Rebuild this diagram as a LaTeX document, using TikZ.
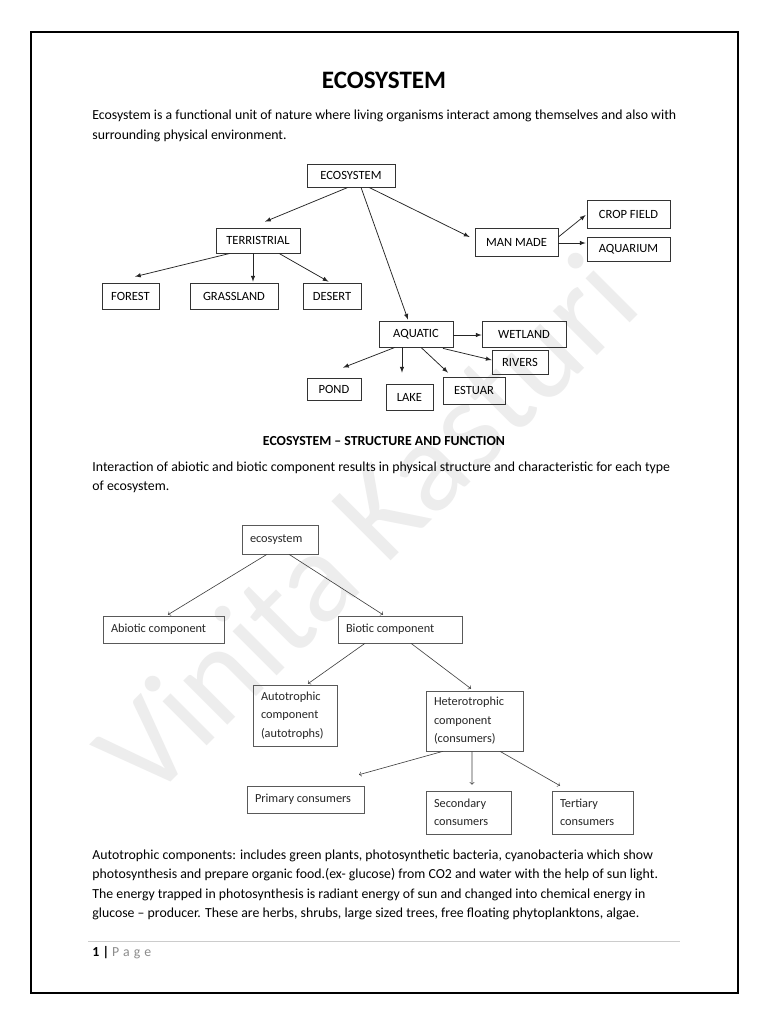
\documentclass[tikz,border=0pt]{standalone}
\usepackage{fontspec}
\setmainfont{Carlito}
\usepackage{xcolor}
\usetikzlibrary{shapes,arrows,positioning,calc}
\newcommand{\px}{0.796875bp}

\begin{document}
\begin{tikzpicture}[x=\px, y=-\px,
    bsize/.style 2 args={minimum width=#1*\px, minimum height=#2*\px},
    box/.style={rectangle, draw=black!80, line width=0.6pt, inner sep=0pt, font=\fontsize{10bp}{12bp}\selectfont},
    sbox/.style 2 args={rectangle, draw=black!65, line width=0.5pt, inner xsep=8*\px, inner ysep=0pt, text width=(#1-16)*\px, minimum height=#2*\px, align=flush left, text=black!85, font=\fontsize{9.8bp}{14.7bp}\selectfont},
    arrow/.style={-latex, line width=0.6pt, draw=black!85},
    sarrow/.style={->, line width=0.5pt, draw=black!75},
    para/.style={anchor=west, align=left, font=\fontsize{11bp}{15.4bp}\selectfont}
]
\useasboundingbox[fill=white] (0,0) rectangle (768,1024);

% Watermark
\node[rotate=45, text=black!7, font=\fontsize{104bp}{104bp}\selectfont] (mark) at (365,525) {Vinita Kasturi};

% Page frame
\draw[line width=1.2pt] (31,32) rectangle (738,993);

% Heading and intro
\node[font=\fontsize{20bp}{24bp}\selectfont\bfseries] (title) at (384,80) {ECOSYSTEM};
\node[para] (intro) at (88,126) {Ecosystem is a functional unit of nature where living organisms interact among themselves and also with\\surrounding physical environment.};

% Ecosystem types
\node[box, bsize={88}{23}] (eco) at (351,175.5) {ECOSYSTEM};
\node[box, bsize={84}{25}] (terr) at (258,240.5) {TERRISTRIAL};
\node[box, bsize={57}{26}] (forest) at (130.5,296) {FOREST};
\node[box, bsize={88}{26}] (grass) at (234,296) {GRASSLAND};
\node[box, bsize={58}{26}] (desert) at (332,296) {DESERT};
\node[box, bsize={83}{28}] (man) at (516.5,242) {MAN MADE};
\node[box, bsize={83}{28}] (crop) at (628.5,214) {CROP FIELD};
\node[box, bsize={83}{24}] (aquar) at (628.5,249) {AQUARIUM};
\node[box, bsize={74}{26}] (aquatic) at (416,334) {AQUATIC};
\node[box, bsize={84}{26}] (wet) at (524,334) {WETLAND};
\node[box, bsize={56}{24}] (rivers) at (520,362) {RIVERS};
\node[box, bsize={54}{22}] (pond) at (334,389) {POND};
\node[box, bsize={47}{26}] (lake) at (409.5,397) {LAKE};
\node[box, bsize={62}{27}] (estuar) at (474,390.5) {ESTUAR};

% Arrows
\draw[arrow] ([shift={(-3,0)}]eco.south) -- ([shift={(7,-6)}]terr.north);
\draw[arrow] ([shift={(10,0)}]eco.south) -- ([shift={(-8,-1)}]aquatic.north);
\draw[arrow] ([shift={(18,0)}]eco.south) -- ([shift={(-5,-5)}]man.west);
\draw[arrow] ([shift={(-28,0)}]terr.south) -- ([shift={(4.5,-6)}]forest.north);
\draw[arrow] ([shift={(-5,0)}]terr.south) -- ([shift={(19,-1)}]grass.north);
\draw[arrow] ([shift={(21,0)}]terr.south) -- ([shift={(-3.5,-1)}]desert.north);
\draw[arrow] ([shift={(0,-5)}]man.east) -- ([shift={(-1,1)}]crop.west);
\draw[arrow] ([shift={(0,1)}]man.east) -- ([shift={(-1,-6)}]aquar.west);
\draw[arrow] ([shift={(0,1)}]aquatic.east) -- ([shift={(0,1)}]wet.west);
\draw[arrow] ([shift={(27,1)}]aquatic.south) -- ([shift={(0,-2)}]rivers.west);
\draw[arrow] ([shift={(-21,0)}]aquatic.south) -- ([shift={(9,-10)}]pond.north);
\draw[arrow] ([shift={(-14,0)}]aquatic.south) -- ([shift={(-7.5,-11)}]lake.north);
\draw[arrow] ([shift={(5,0)}]aquatic.south) -- ([shift={(-26,-4)}]estuar.north);

% Structure and function
\node[font=\fontsize{11bp}{13bp}\selectfont\bfseries] (sub) at (384,441) {ECOSYSTEM -- STRUCTURE AND FUNCTION};
\node[para] (inter) at (88,477) {Interaction of abiotic and biotic component results in physical structure and characteristic for each type\\of ecosystem.};

\node[sbox={76}{29}] (seco) at (280,539.5) {ecosystem};
\node[sbox={121}{27}] (abio) at (163.5,629.5) {Abiotic component};
\node[sbox={124}{27}] (bio) at (400,629.5) {Biotic component};
\node[sbox={84}{61}] (auto) at (295,715.5) {Autotrophic\\component\\(autotrophs)};
\node[sbox={97}{60}] (hetero) at (474.5,721) {Heterotrophic\\component\\(consumers)};
\node[sbox={117}{27}] (prim) at (305.5,799.5) {Primary consumers};
\node[sbox={85}{43}] (sec) at (468.5,812.5) {Secondary\\consumers};
\node[sbox={81}{43}] (tert) at (592.5,812.5) {Tertiary\\consumers};

\draw[sarrow] ([shift={(-13,0)}]seco.south) -- ([shift={(4.5,-1)}]abio.north);
\draw[sarrow] ([shift={(9,0)}]seco.south) -- ([shift={(-17,-1)}]bio.north);
\draw[sarrow] ([shift={(-35,0)}]bio.south) -- ([shift={(13,-1)}]auto.north);
\draw[sarrow] ([shift={(11,0)}]bio.south) -- ([shift={(-3.5,-2)}]hetero.north);
\draw[sarrow] ([shift={(-31.5,0)}]hetero.south) -- ([shift={(53.5,-11)}]prim.north);
\draw[sarrow] ([shift={(-2.5,0)}]hetero.south) -- ([shift={(3.5,-6)}]sec.north);
\draw[sarrow] ([shift={(25.5,0)}]hetero.south) -- ([shift={(-32.5,-5)}]tert.north);

% Closing text and footer
\node[para] (autotext) at (88,885) {Autotrophic components: includes green plants, photosynthetic bacteria, cyanobacteria which show\\photosynthesis and prepare organic food.(ex- glucose) from CO2 and water with the help of sun light.\\The energy trapped in photosynthesis is radiant energy of sun and changed into chemical energy in\\glucose -- producer. These are herbs, shrubs, large sized trees, free floating phytoplanktons, algae.};
\draw[black!20, line width=0.8pt] (88,941) -- (680,941);
\node[para] (foot) at (88,953) {\textbf{1 |} {\color{black!45}\addfontfeature{LetterSpace=30}Page}};

\end{tikzpicture}
\end{document}
